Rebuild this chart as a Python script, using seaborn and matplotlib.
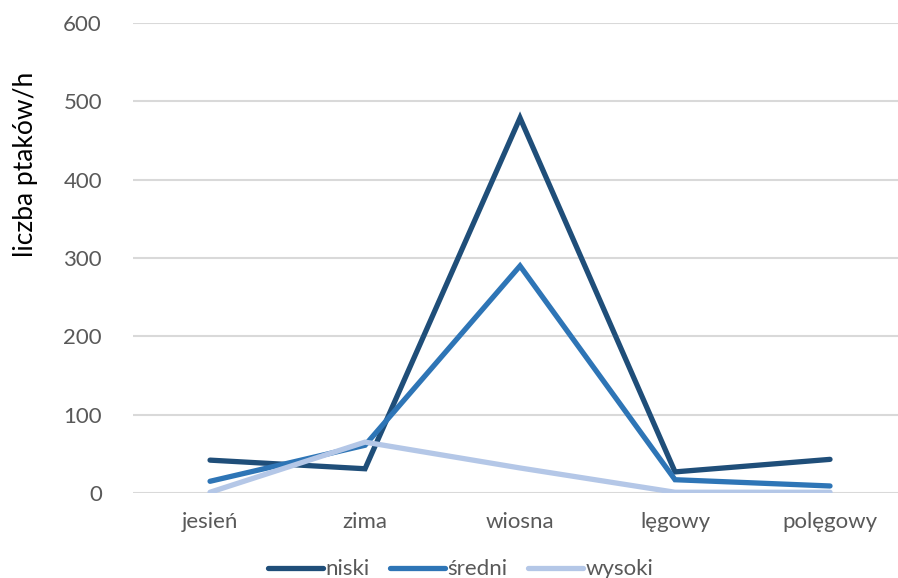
import numpy as np
import pandas as pd
import matplotlib.pyplot as plt
import seaborn as sns

# data
seasons = ["jesień", "zima", "wiosna", "lęgowy", "polęgowy"]
niski = [42, 31, 479, 27, 43]
sredni = [15, 61, 290, 17, 9]
wysoki = [1, 65, 32, 1, 1]
series_names = ["niski", "średni", "wysoki"]
colors = ["#1F4E79", "#2E75B6", "#B4C7E7"]
y_ticks = [0, 100, 200, 300, 400, 500, 600]

df = pd.DataFrame({
    "sezon": seasons * 3,
    "x": list(range(len(seasons))) * 3,
    "wartosc": niski + sredni + wysoki,
    "wysokosc": np.repeat(series_names, len(seasons)),
})

sns.set_style("white")
plt.rcParams["font.family"] = ["Lato", "DejaVu Sans"]

fig = plt.figure(figsize=(8.98, 5.78), dpi=100)
ax = fig.add_axes([0.1476, 0.147, 0.863, 0.813])

sns.lineplot(data=df, x="x", y="wartosc", hue="wysokosc",
             palette=dict(zip(series_names, colors)), linewidth=3.8,
             ax=ax, legend=False, sort=False)
for line in ax.get_lines():
    line.set_solid_capstyle("round")
    line.set_solid_joinstyle("miter")

ax.set_xlim(-0.5, len(seasons) - 0.5)
ax.set_ylim(0, 600)
ax.set_yticks(y_ticks)
ax.set_xticks(range(len(seasons)))
ax.set_xticklabels(seasons)
ax.yaxis.grid(True, color="#D9D9D9", linewidth=1.5)
ax.set_axisbelow(True)
for s in ax.spines.values():
    s.set_visible(False)
ax.tick_params(axis="both", length=0, labelsize=16, labelcolor="#595959")
ax.tick_params(axis="y", pad=22)
ax.tick_params(axis="x", pad=14)
ax.set_xlabel("")
ax.set_ylabel("liczba ptaków/h", fontsize=19, color="black")
ax.yaxis.set_label_coords(-0.148 + 0.026, 0.70, transform=ax.transAxes)

handles = [plt.Line2D([0], [0], color=c, linewidth=3.8, solid_capstyle="round")
           for c in colors]
fig.legend(handles, series_names, loc="center", bbox_to_anchor=(0.513, 0.015),
           ncol=3, frameon=False, fontsize=16, handlelength=2.5,
           handletextpad=0.1, columnspacing=0.9, labelcolor="#595959")

fig.savefig("out.png", dpi=100)
